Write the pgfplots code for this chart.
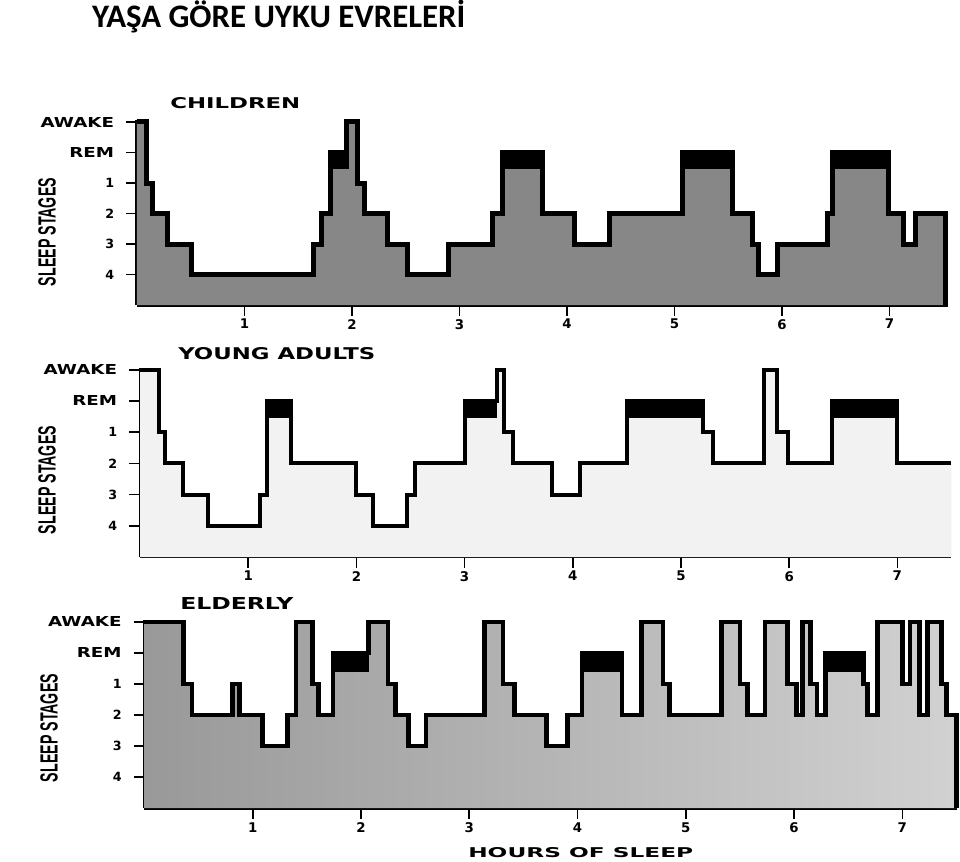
\documentclass[border=0pt]{standalone}
\usepackage{pgfplots}
\pgfplotsset{compat=1.18}
\usepackage{fontspec}
\usepackage{graphicx}
\setmainfont{DejaVu Sans}
\newfontfamily\djv{DejaVu Sans}
\newfontfamily\lib{Liberation Sans}
\newfontfamily\carl{Carlito}

\newcommand\yl[1]{\scalebox{1.33}[1]{\fontsize{10.3pt}{12pt}\selectfont\djv\bfseries #1}}
\newcommand\dg[1]{{\fontsize{10pt}{11pt}\selectfont\djv\bfseries #1}}
\newcommand\yd[1]{{\fontsize{9.5pt}{10pt}\selectfont\djv\bfseries #1}}

\pgfplotsset{
  hyp/.style={
    scale only axis, xmin=0, ymin=0, ymax=6.05,
    axis lines=left, axis line style={-},
    clip=false,
    xtick={1,2,3,4,5,6,7},
    xticklabels={\dg{1},\dg{2},\dg{3},\dg{4},\dg{5},\dg{6},\dg{7}},
    ytick={1,2,3,4,5,6},
    yticklabels={\yd{4},\yd{3},\yd{2},\yd{1},\yl{REM},\yl{AWAKE}},
    tick align=outside, major tick length=8pt,
    tick style={line width=1.3pt, black},
    xticklabel style={anchor=north, inner sep=0pt, yshift=-2.5pt},
    yticklabel style={anchor=east, inner sep=0pt, xshift=-9pt},
  },
  trc/.style={const plot, black, line join=miter, mark=none},
  remb/.style={fill=black, draw=none},
}

\begin{document}
\begin{tikzpicture}
\useasboundingbox (0,0) rectangle (720pt,-645.75pt);

% title
\node[anchor=base west, inner sep=0pt] at (68.8pt,-20.5pt)
  {\resizebox{280pt}{!}{\carl\bfseries YAŞA GÖRE UYKU EVRELERİ}};

% ---------------- CHILDREN ----------------
\begin{axis}[hyp, at={(102.75pt,-228.75pt)}, anchor=south west,
  width=607.9pt, height=138.4pt, xmax=7.54,
  axis line style={line width=2.25pt}]
\addplot[const plot, fill=black!47, draw=none] coordinates {
(0,6) (0.09,4) (0.14,3) (0.28,2) (0.51,1) (1.64,2) (1.72,3) (1.80,5) (1.95,6)
(2.05,4) (2.12,3) (2.33,2) (2.52,1) (2.90,2) (3.31,3) (3.40,5) (3.77,3)
(4.07,2) (4.40,3) (5.07,5) (5.54,3) (5.73,2) (5.78,1) (5.96,2) (6.42,3)
(6.47,5) (6.99,3) (7.13,2) (7.24,3) (7.52,3)} \closedcycle;
\addplot[remb] coordinates {(1.80,4.45) (1.80,5) (1.97,5) (1.97,4.45)};
\addplot[remb] coordinates {(3.40,4.45) (3.40,5) (3.77,5) (3.77,4.45)};
\addplot[remb] coordinates {(5.07,4.45) (5.07,5) (5.54,5) (5.54,4.45)};
\addplot[remb] coordinates {(6.47,4.45) (6.47,5) (6.99,5) (6.99,4.45)};
\addplot[trc, line width=3.75pt] coordinates {
(0,6) (0.09,4) (0.14,3) (0.28,2) (0.51,1) (1.64,2) (1.72,3) (1.80,5) (1.95,6)
(2.05,4) (2.12,3) (2.33,2) (2.52,1) (2.90,2) (3.31,3) (3.40,5) (3.77,3)
(4.07,2) (4.40,3) (5.07,5) (5.54,3) (5.73,2) (5.78,1) (5.96,2) (6.42,3)
(6.47,5) (6.99,3) (7.13,2) (7.24,3) (7.52,3) (7.52,0)};
\end{axis}

% ---------------- YOUNG ADULTS ----------------
\begin{axis}[hyp, at={(105pt,-417.75pt)}, anchor=south west,
  width=608.6pt, height=141.6pt, xmax=7.5,
  axis line style={line width=1.6pt}]
\addplot[const plot, fill=black!5, draw=none] coordinates {
(0,6) (0.18,4) (0.23,3) (0.40,2) (0.63,1) (1.11,2) (1.17,5) (1.40,3)
(2.00,2) (2.15,1) (2.47,2) (2.54,3) (3.00,5) (3.30,6) (3.36,4) (3.45,3)
(3.81,2) (4.07,3) (4.50,5) (5.20,4) (5.30,3) (5.77,6) (5.89,4) (5.99,3)
(6.40,5) (7.00,3) (7.50,3)} \closedcycle;
\addplot[remb] coordinates {(1.17,4.45) (1.17,5) (1.40,5) (1.40,4.45)};
\addplot[remb] coordinates {(3.00,4.45) (3.00,5) (3.30,5) (3.30,4.45)};
\addplot[remb] coordinates {(4.50,4.45) (4.50,5) (5.20,5) (5.20,4.45)};
\addplot[remb] coordinates {(6.40,4.45) (6.40,5) (7.00,5) (7.00,4.45)};
\addplot[trc, line width=3pt] coordinates {
(0,6) (0.18,4) (0.23,3) (0.40,2) (0.63,1) (1.11,2) (1.17,5) (1.40,3)
(2.00,2) (2.15,1) (2.47,2) (2.54,3) (3.00,5) (3.30,6) (3.36,4) (3.45,3)
(3.81,2) (4.07,3) (4.50,5) (5.20,4) (5.30,3) (5.77,6) (5.89,4) (5.99,3)
(6.40,5) (7.00,3) (7.50,3)};
\end{axis}

% ---------------- ELDERLY ----------------
\begin{axis}[hyp, at={(108.375pt,-606pt)}, anchor=south west,
  width=609pt, height=140.7pt, xmax=7.5,
  axis line style={line width=2.25pt}]
\addplot[const plot, left color=black!40, right color=black!18, draw=none] coordinates {
(0,6) (0.36,4) (0.44,3) (0.81,4) (0.88,3) (1.09,2) (1.32,3) (1.40,6) (1.55,4)
(1.61,3) (1.74,5) (2.07,6) (2.25,4) (2.32,3) (2.44,2) (2.60,3) (3.14,6)
(3.31,4) (3.42,3) (3.71,2) (3.91,3) (4.04,5) (4.41,3) (4.59,6) (4.79,4)
(4.85,3) (5.33,6) (5.50,4) (5.57,3) (5.73,6) (5.94,4) (6.02,3) (6.08,6)
(6.15,4) (6.21,3) (6.29,5) (6.64,4) (6.68,3) (6.77,6) (7.00,4) (7.07,6)
(7.16,3) (7.23,6) (7.36,4) (7.41,3) (7.50,3)} \closedcycle;
\addplot[remb] coordinates {(1.74,4.4) (1.74,5) (2.07,5) (2.07,4.4)};
\addplot[remb] coordinates {(4.04,4.4) (4.04,5) (4.41,5) (4.41,4.4)};
\addplot[remb] coordinates {(6.29,4.4) (6.29,5) (6.64,5) (6.64,4.4)};
\addplot[trc, line width=3.5pt] coordinates {
(0,6) (0.36,4) (0.44,3) (0.81,4) (0.88,3) (1.09,2) (1.32,3) (1.40,6) (1.55,4)
(1.61,3) (1.74,5) (2.07,6) (2.25,4) (2.32,3) (2.44,2) (2.60,3) (3.14,6)
(3.31,4) (3.42,3) (3.71,2) (3.91,3) (4.04,5) (4.41,3) (4.59,6) (4.79,4)
(4.85,3) (5.33,6) (5.50,4) (5.57,3) (5.73,6) (5.94,4) (6.02,3) (6.08,6)
(6.15,4) (6.21,3) (6.29,5) (6.64,4) (6.68,3) (6.77,6) (7.00,4) (7.07,6)
(7.16,3) (7.23,6) (7.36,4) (7.41,3) (7.50,3) (7.50,0)};
\end{axis}

% texts
\begin{scope}[x=0.75pt,y=-0.75pt]
\node[anchor=west, inner sep=0pt] at (170,103) {\resizebox{97.5pt}{8.25pt}{\djv\bfseries CHILDREN}};
\node[anchor=west, inner sep=0pt] at (178,354) {\resizebox{147.75pt}{9pt}{\djv\bfseries YOUNG ADULTS}};
\node[anchor=west, inner sep=0pt] at (180,603) {\resizebox{84.75pt}{9pt}{\djv\bfseries ELDERLY}};
\node[rotate=90, inner sep=0pt] at (47,232) {\resizebox{81pt}{13pt}{\lib\bfseries SLEEP STAGES}};
\node[rotate=90, inner sep=0pt] at (47,480) {\resizebox{81pt}{13pt}{\lib\bfseries SLEEP STAGES}};
\node[rotate=90, inner sep=0pt] at (49,728) {\resizebox{81pt}{13pt}{\lib\bfseries SLEEP STAGES}};
\node[anchor=west, inner sep=0pt] at (468,853) {\resizebox{168.75pt}{7.5pt}{\djv\bfseries HOURS OF SLEEP}};
\end{scope}
\end{tikzpicture}
\end{document}
